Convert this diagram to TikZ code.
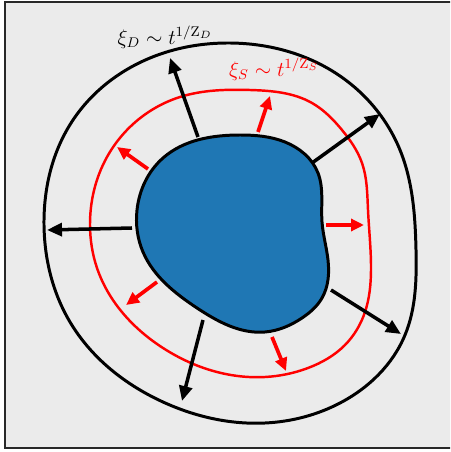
\documentclass[tikz,border=0pt]{standalone}
\usepackage{amsmath}
\usepackage{tikz}
\usetikzlibrary{arrows.meta,hobby}
\definecolor{panel}{RGB}{235,235,235}
\definecolor{framegray}{RGB}{40,40,40}
\definecolor{domain}{RGB}{31,119,180}
\definecolor{slow}{RGB}{255,0,0}
\tikzset{
  front/.style={line width=1.7pt, line join=round},
  dfront/.style={front, black},
  sfront/.style={front, slow, line width=1.4pt},
  darrow/.style={line width=2pt, black, -{Triangle[length=3mm, width=2.6mm]}},
  sarrow/.style={line width=2.1pt, slow, -{Triangle[length=2.6mm, width=2.4mm]}},
  scalelab/.style={font=\large, inner sep=1pt},
}

\begin{document}
\begin{tikzpicture}[x=0.02cm, y=-0.02cm]
  % --- frame ---
  \clip (0,0) rectangle (450,452);
  \useasboundingbox (0,0) rectangle (450,452);
  \fill[white] (0,0) rectangle (450,452);
  \draw[framegray, fill=panel, line width=1.6pt] (5,2) rectangle (470,448);

  % --- outer front (xi_D) ---
  \draw[dfront] plot[closed hobby] coordinates {
    (230,43) (340,76) (400,150) (416,250) (405,335) (340,403)
    (265,423) (163,402) (70,322) (44,225) (73,120) (150,58)};

  % --- inner front (xi_S) ---
  \draw[sfront] plot[closed hobby] coordinates {
    (250,90) (312,103) (342,130) (362,163) (368,210) (371,270) (365,312)
    (345,345) (308,368) (265,377) (163,348) (97,268) (90,225) (107,157)
    (180,97)};

  % --- ordered domain ---
  \draw[front, fill=domain] plot[closed hobby] coordinates {
    (240,135) (285,142) (318,173) (322,222) (328,260) (322,298) (302,318)
    (265,332) (197,308) (143,252) (137,210) (163,158)};

  % --- growth arrows ---
  \draw[darrow] (198,137) -- (170,58);
  \draw[darrow] (312,163) -- (380,114);
  \draw[darrow] (132,228) -- (47,230);
  \draw[darrow] (331,290) -- (401,334);
  \draw[darrow] (203,320) -- (182,401);

  \draw[sarrow] (258,132) -- (270,96);
  \draw[sarrow] (148,169) -- (117,147);
  \draw[sarrow] (326,225) -- (364,225);
  \draw[sarrow] (157,282) -- (126,305);
  \draw[sarrow] (272,337) -- (286,371);

  % --- labels ---
  \node[scalelab] (xid) at (165,37) {$\xi_D \sim t^{1/\mathrm{Z}_D}$};
  \node[scalelab, text=slow] (xis) at (274,69) {$\xi_S \sim t^{1/\mathrm{Z}_S}$};
\end{tikzpicture}
\end{document}
